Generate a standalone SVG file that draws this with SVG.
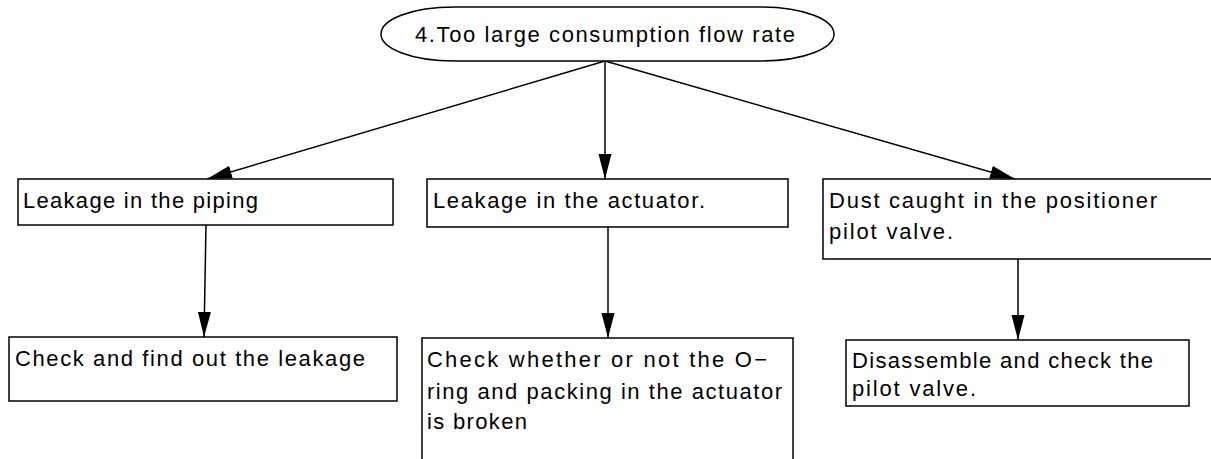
<svg xmlns="http://www.w3.org/2000/svg" width="1211" height="459" viewBox="0 0 1211 459">
<style>
.box{fill:#fff;stroke:#000;stroke-width:1.5}
.t{font-family:"Liberation Sans",Arial,sans-serif;font-size:22px;fill:#000}
.c{stroke:#000;stroke-width:1.5;fill:none;marker-end:url(#ah)}
</style>
<defs>
<marker id="ah" markerUnits="userSpaceOnUse" markerWidth="26" markerHeight="14" refX="25" refY="6.5" orient="auto">
<path d="M0,0 L25,6.5 L0,13 Z" fill="#000"/>
</marker>
</defs>
<rect width="1211" height="459" fill="#fff"/>
<g id="connectors">
<line class="c" x1="605" y1="61" x2="207" y2="179"/>
<line class="c" x1="605" y1="61" x2="605" y2="179"/>
<line class="c" x1="605" y1="61" x2="1015" y2="179"/>
<line class="c" x1="206" y1="225" x2="204" y2="337"/>
<line class="c" x1="608" y1="227" x2="608" y2="338"/>
<line class="c" x1="1018" y1="259" x2="1018" y2="340"/>
</g>
<g id="n0">
<path class="box" d="M455,7 H760 C805,7 834,20 834,34 C834,48 805,61 760,61 H455 C410,61 381,48 381,34 C381,20 410,7 455,7 Z"/>
<text class="t" x="415" y="42" textLength="380" lengthAdjust="spacing">4.Too large consumption flow rate</text>
</g>
<g id="n1">
<rect class="box" x="18" y="179" width="375" height="46"/>
<text class="t" x="23" y="208" textLength="235" lengthAdjust="spacing">Leakage in the piping</text>
</g>
<g id="n2">
<rect class="box" x="427" y="179" width="361" height="48"/>
<text class="t" x="433" y="208" textLength="272" lengthAdjust="spacing">Leakage in the actuator.</text>
</g>
<g id="n3">
<rect class="box" x="823" y="179" width="400" height="80"/>
<text class="t" x="829" y="208" textLength="328" lengthAdjust="spacing">Dust caught in the positioner</text>
<text class="t" x="829" y="239" textLength="124" lengthAdjust="spacing">pilot valve.</text>
</g>
<g id="n4">
<rect class="box" x="9" y="337" width="388" height="64"/>
<text class="t" x="15" y="366" textLength="350" lengthAdjust="spacing">Check and find out the leakage</text>
</g>
<g id="n5">
<rect class="box" x="422" y="338" width="371" height="130"/>
<text class="t" x="427" y="367" textLength="340" lengthAdjust="spacing">Check whether or not the O−</text>
<text class="t" x="427" y="399" textLength="355" lengthAdjust="spacing">ring and packing in the actuator</text>
<text class="t" x="427" y="429" textLength="100" lengthAdjust="spacing">is broken</text>
</g>
<g id="n6">
<rect class="box" x="846" y="340" width="343" height="66"/>
<text class="t" x="852" y="368" textLength="301" lengthAdjust="spacing">Disassemble and check the</text>
<text class="t" x="852" y="396" textLength="124" lengthAdjust="spacing">pilot valve.</text>
</g>
</svg>
